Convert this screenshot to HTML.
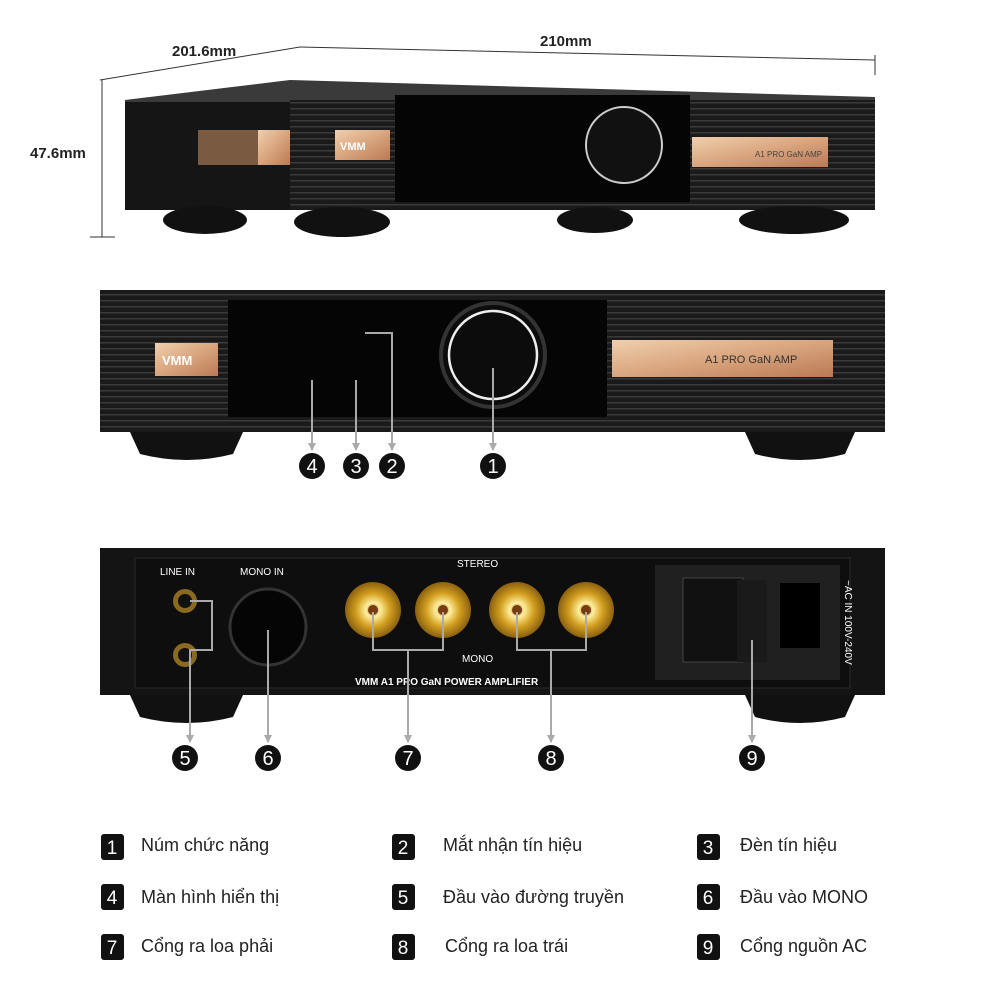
<!DOCTYPE html>
<html><head><meta charset="utf-8"><style>
body{margin:0;background:#fff;width:1000px;height:1000px;overflow:hidden}
svg{display:block}
text{font-family:"Liberation Sans",sans-serif}
</style></head><body>
<svg width="1000" height="1000" viewBox="0 0 1000 1000" xmlns="http://www.w3.org/2000/svg">
<defs>
<linearGradient id="gold" x1="0" y1="0" x2="1" y2="1"><stop offset="0" stop-color="#f0cfae"/><stop offset=".5" stop-color="#d9a57e"/><stop offset="1" stop-color="#b97a55"/></linearGradient>
<radialGradient id="brass"><stop offset="0" stop-color="#7a4a10"/><stop offset=".25" stop-color="#fff0a0"/><stop offset=".6" stop-color="#d4a020"/><stop offset="1" stop-color="#8a6010"/></radialGradient>
<pattern id="rib" width="6" height="6" patternUnits="userSpaceOnUse"><rect width="6" height="6" fill="#1a1a1a"/><rect width="6" height="1.5" fill="#3a3a3a"/></pattern>
<marker id="ar" markerWidth="8" markerHeight="8" refX="7" refY="4" orient="auto" markerUnits="userSpaceOnUse"><path d="M0,0 L8,4 L0,8 z" fill="#aaa"/></marker>
</defs>
<g stroke="#333" stroke-width="1" fill="none">
<line x1="100" y1="80" x2="300" y2="47"/><line x1="300" y1="47" x2="875" y2="60"/>
<line x1="875" y1="55" x2="875" y2="75"/>
<line x1="102" y1="80" x2="102" y2="237"/><line x1="90" y1="237" x2="115" y2="237"/>
</g>
<text x="172" y="56" font-size="15" font-weight="bold" fill="#222">201.6mm</text>
<text x="540" y="46" font-size="15" font-weight="bold" fill="#222">210mm</text>
<text x="30" y="158" font-size="15" font-weight="bold" fill="#222">47.6mm</text>
<polygon points="125,100 290,80 875,97 875,105 125,105" fill="#3a3a3a"/>
<rect x="125" y="102" width="750" height="108" fill="#151515"/>
<rect x="290" y="100" width="585" height="110" fill="url(#rib)"/>
<rect x="198" y="130" width="92" height="35" fill="#7a5a40"/>
<rect x="258" y="130" width="32" height="35" fill="url(#gold)"/>
<rect x="335" y="130" width="55" height="30" fill="url(#gold)"/>
<text x="340" y="150" font-size="11" font-weight="bold" fill="#fff">VMM</text>
<rect x="395" y="95" width="295" height="107" fill="#050505"/>
<circle cx="624" cy="145" r="38" fill="#111" stroke="#ccc" stroke-width="2"/>
<rect x="692" y="137" width="136" height="30" fill="url(#gold)"/>
<text x="755" y="157" font-size="8" fill="#444">A1 PRO GaN AMP</text>
<g fill="#111"><ellipse cx="205" cy="220" rx="42" ry="14"/><ellipse cx="342" cy="222" rx="48" ry="15"/><ellipse cx="595" cy="220" rx="38" ry="13"/><ellipse cx="794" cy="220" rx="55" ry="14"/></g>
<rect x="100" y="290" width="785" height="142" fill="url(#rib)"/>
<rect x="228" y="300" width="379" height="117" fill="#050505"/>
<circle cx="493" cy="355" r="52" fill="#0c0c0c" stroke="#333" stroke-width="4"/>
<circle cx="493" cy="355" r="44" fill="#0c0c0c" stroke="#eee" stroke-width="2.5"/>
<rect x="155" y="343" width="63" height="33" fill="url(#gold)"/>
<text x="162" y="365" font-size="13" font-weight="bold" fill="#fff">VMM</text>
<rect x="612" y="340" width="221" height="37" fill="url(#gold)"/>
<text x="705" y="363" font-size="11" fill="#333">A1 PRO GaN AMP</text>
<g fill="#111"><path d="M130,432 h113 l-10,22 q-46,12 -93,0z"/><path d="M745,432 h110 l-10,22 q-45,12 -90,0z"/></g>
<g stroke="#aaa" stroke-width="2" fill="none">
<line x1="312" y1="380" x2="312" y2="450" marker-end="url(#ar)"/><line x1="356" y1="380" x2="356" y2="450" marker-end="url(#ar)"/>
<polyline points="365,333 392,333 392,450" marker-end="url(#ar)"/><line x1="493" y1="368" x2="493" y2="450" marker-end="url(#ar)"/>
</g>
<rect x="100" y="548" width="785" height="147" fill="#141414"/>
<rect x="135" y="558" width="715" height="130" fill="#0e0e0e" stroke="#2a2a2a"/>
<rect x="655" y="565" width="185" height="115" fill="#202020"/>
<rect x="683" y="578" width="60" height="84" fill="#111" stroke="#444"/>
<rect x="737" y="580" width="30" height="82" fill="#1a1a1a"/>
<rect x="780" y="583" width="40" height="65" fill="#000"/>
<text x="160" y="575" font-size="10" fill="#fff">LINE IN</text>
<text x="240" y="575" font-size="10" fill="#fff">MONO IN</text>
<text x="457" y="567" font-size="10" fill="#fff">STEREO</text>
<text x="462" y="662" font-size="10" fill="#fff">MONO</text>
<text x="355" y="685" font-size="10" font-weight="bold" fill="#fff">VMM A1 PRO GaN POWER AMPLIFIER</text>
<g fill="#8a6a20"><circle cx="185" cy="601" r="12"/><circle cx="185" cy="655" r="12"/></g>
<g fill="#111"><circle cx="185" cy="601" r="7"/><circle cx="185" cy="655" r="7"/></g>
<circle cx="268" cy="627" r="38" fill="#050505" stroke="#333" stroke-width="3"/>
<g fill="url(#brass)"><circle cx="373" cy="610" r="28"/><circle cx="443" cy="610" r="28"/><circle cx="517" cy="610" r="28"/><circle cx="586" cy="610" r="28"/></g>
<g fill="#7a3a10"><circle cx="373" cy="610" r="5"/><circle cx="443" cy="610" r="5"/><circle cx="517" cy="610" r="5"/><circle cx="586" cy="610" r="5"/></g>
<text x="845" y="580" font-size="10" fill="#fff" transform="rotate(90 845 580)">~AC IN 100V-240V</text>
<g fill="#111"><path d="M130,695 h113 l-10,22 q-46,12 -93,0z"/><path d="M745,695 h110 l-10,22 q-45,12 -90,0z"/></g>
<g stroke="#aaa" stroke-width="2" fill="none">
<polyline points="190,601 212,601 212,650 190,650 190,742" marker-end="url(#ar)"/>
<line x1="268" y1="630" x2="268" y2="742" marker-end="url(#ar)"/>
<polyline points="373,612 373,650 443,650 443,612"/><line x1="408" y1="650" x2="408" y2="742" marker-end="url(#ar)"/>
<polyline points="517,612 517,650 586,650 586,612"/><line x1="551" y1="650" x2="551" y2="742" marker-end="url(#ar)"/>
<line x1="752" y1="640" x2="752" y2="742" marker-end="url(#ar)"/>
</g>
<g font-size="20" text-anchor="middle" fill="#fff">
<circle cx="312" cy="466" r="13" fill="#111"/><text x="312" y="473">4</text>
<circle cx="356" cy="466" r="13" fill="#111"/><text x="356" y="473">3</text>
<circle cx="392" cy="466" r="13" fill="#111"/><text x="392" y="473">2</text>
<circle cx="493" cy="466" r="13" fill="#111"/><text x="493" y="473">1</text>
<circle cx="185" cy="758" r="13" fill="#111"/><text x="185" y="765">5</text>
<circle cx="268" cy="758" r="13" fill="#111"/><text x="268" y="765">6</text>
<circle cx="408" cy="758" r="13" fill="#111"/><text x="408" y="765">7</text>
<circle cx="551" cy="758" r="13" fill="#111"/><text x="551" y="765">8</text>
<circle cx="752" cy="758" r="13" fill="#111"/><text x="752" y="765">9</text>
</g>
<g>
<g fill="#111"><rect x="101" y="834" width="23" height="26" rx="3"/><rect x="392" y="834" width="23" height="26" rx="3"/><rect x="697" y="834" width="23" height="26" rx="3"/>
<rect x="101" y="884" width="23" height="26" rx="3"/><rect x="392" y="884" width="23" height="26" rx="3"/><rect x="697" y="884" width="23" height="26" rx="3"/>
<rect x="101" y="934" width="23" height="26" rx="3"/><rect x="392" y="934" width="23" height="26" rx="3"/><rect x="697" y="934" width="23" height="26" rx="3"/></g>
<g fill="#fff" font-size="19" text-anchor="middle">
<text x="112" y="854">1</text><text x="403" y="854">2</text><text x="708" y="854">3</text>
<text x="112" y="904">4</text><text x="403" y="904">5</text><text x="708" y="904">6</text>
<text x="112" y="954">7</text><text x="403" y="954">8</text><text x="708" y="954">9</text></g>
<g fill="#222" font-size="18">
<text x="141" y="851">Núm chức năng</text><text x="443" y="851">Mắt nhận tín hiệu</text><text x="740" y="851">Đèn tín hiệu</text>
<text x="141" y="903">Màn hình hiển thị</text><text x="443" y="903">Đầu vào đường truyền</text><text x="740" y="903">Đầu vào MONO</text>
<text x="141" y="952">Cổng ra loa phải</text><text x="445" y="952">Cổng ra loa trái</text><text x="740" y="952">Cổng nguồn AC</text></g>
</g>
</svg>
</body></html>
